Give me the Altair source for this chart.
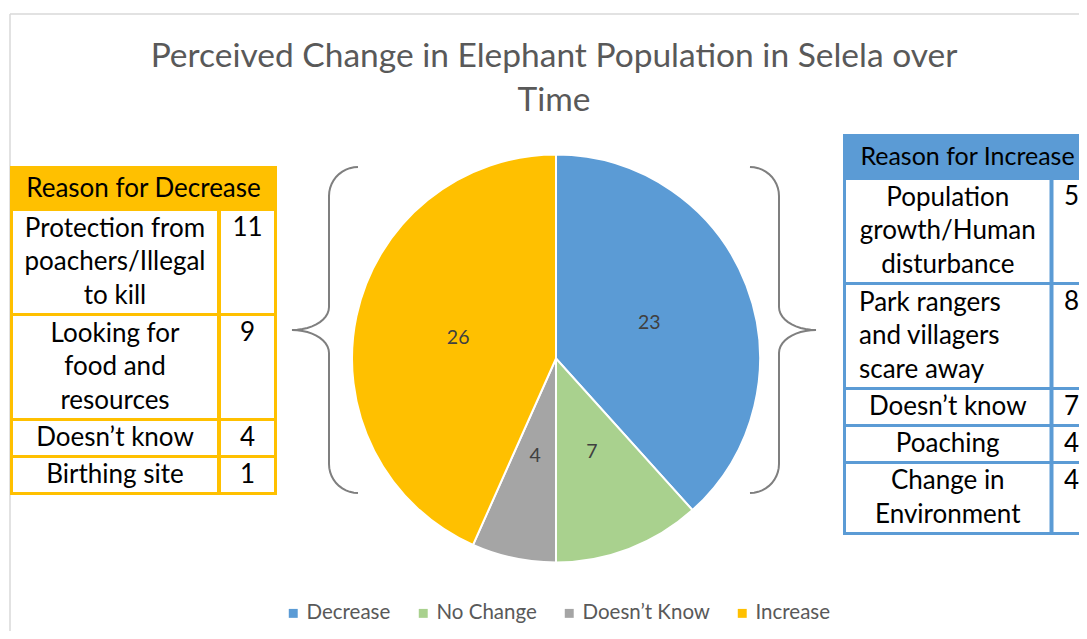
import altair as alt
import pandas as pd
import numpy as np

# ---------------- data ----------------
title_lines = ["Perceived Change in Elephant Population in Selela over", "Time"]

pie_categories = ["Decrease", "No Change", "Doesn\u2019t Know", "Increase"]
pie_values = [23, 7, 4, 26]
pie_colors = ["#5B9BD5", "#A9D18E", "#A5A5A5", "#FFC000"]

decrease_header = "Reason for Decrease"
decrease_reasons = ["Protection from\npoachers/Illegal\nto kill",
                    "Looking for\nfood and\nresources",
                    "Doesn\u2019t know",
                    "Birthing site"]
decrease_counts = [11, 9, 4, 1]
decrease_align = ["center", "center", "center", "center"]

increase_header = "Reason for Increase"
increase_reasons = ["Population\ngrowth/Human\ndisturbance",
                    "Park rangers\nand villagers\nscare away",
                    "Doesn\u2019t know",
                    "Poaching",
                    "Change in\nEnvironment"]
increase_counts = [5, 8, 7, 4, 4]
increase_align = ["center", "left", "center", "center", "center"]

# ---------------- layout / style ----------------
FONT = "Lato"
M = 8
W, H = 1071, 623
XS = alt.Scale(domain=[M, M + W], nice=False, zero=False)
YS = alt.Scale(domain=[M + H, M], nice=False, zero=False)
GOLD = "#FFC000"
BLUE = "#5B9BD5"
GREY_TXT = "#595959"
TABLE_FS = 26
LINE_H = 33.5
TITLE_FS = 33.5
TITLE_LH = 44


def X(f):
    return alt.X(f, type="quantitative", scale=XS, axis=None)


def Y(f):
    return alt.Y(f, type="quantitative", scale=YS, axis=None)


def table_frames(x0, x1, y0, head_h, split, reasons, counts, aligns,
                 num_dx=None, head_dx=0, line_h=34, gap=3, border=3):
    rows = []
    y = y0 + head_h
    for r, c, a in zip(reasons, counts, aligns):
        n = r.count("\n") + 1
        h = line_h * n
        rows.append(dict(reason=r, count=str(c), align=a, top=y, bot=y + h, n=n,
                         tx0=x0 + border, tx1=split - 2,
                         nx0=split + 2, nx1=x1 - border))
        y += h + gap
    bottom = y - gap + border
    rows = pd.DataFrame(rows)
    rows["ymid"] = (rows["top"] + rows["bot"]) / 2
    rows["yfirst"] = rows["ymid"] - (rows["n"] - 1) * LINE_H / 2
    rows["xc"] = (rows["tx0"] + rows["tx1"]) / 2
    rows["xl"] = rows["tx0"] + 13
    if num_dx is None:
        rows["nxc"] = (rows["nx0"] + rows["nx1"]) / 2
    else:
        rows["nxc"] = rows["nx0"] + num_dx
    rows["ny"] = rows["top"] + 17
    outer = pd.DataFrame([dict(x0=x0, x1=x1, y0=y0, y1=bottom,
                               hx=(x0 + x1) / 2 + head_dx, hy=y0 + head_h / 2)])
    return outer, rows


def table_layers(outer, rows, header, color, head_fs):
    clip = True
    lay = []
    lay.append(alt.Chart(outer).mark_rect(color=color, clip=clip).encode(
        x=X("x0"), x2="x1", y=Y("y0"), y2="y1"))
    lay.append(alt.Chart(rows).mark_rect(color="white", clip=clip).encode(
        x=X("tx0"), x2="tx1", y=Y("top"), y2="bot"))
    lay.append(alt.Chart(rows).mark_rect(color="white", clip=clip).encode(
        x=X("nx0"), x2="nx1", y=Y("top"), y2="bot"))
    lay.append(alt.Chart(outer.assign(t=header)).mark_text(
        font=FONT, fontSize=head_fs, color="black", align="center",
        baseline="middle").encode(x=X("hx"), y=Y("hy"), text="t:N"))
    for al, xf in (("center", "xc"), ("left", "xl")):
        sub = rows[rows["align"] == al]
        if len(sub):
            lay.append(alt.Chart(sub).mark_text(
                font=FONT, fontSize=TABLE_FS, color="black", align=al,
                baseline="middle", lineBreak="\n", lineHeight=LINE_H).encode(
                x=X(xf), y=Y("yfirst"), text="reason:N"))
    lay.append(alt.Chart(rows).mark_text(
        font=FONT, fontSize=TABLE_FS, color="black", align="center",
        baseline="middle").encode(
        x=X("nxc"), y=Y("ny"), text="count:N"))
    return lay


def brace(name, xe, xs, xt, yt, ym, yb, ry):
    t = np.linspace(0, np.pi / 2, 12)
    r = abs(xs - xe)
    pts = []
    pts += list(zip(xe + (xs - xe) * np.sin(t), yt + r - r * np.cos(t)))
    pts += list(zip(xt + (xs - xt) * np.cos(t), ym - ry + ry * np.sin(t)))
    pts += list(zip(xt + (xs - xt) * np.cos(t[::-1]), ym + ry - ry * np.sin(t[::-1])))
    pts += list(zip(xe + (xs - xe) * np.cos(t), yb - r + r * np.sin(t)))
    df = pd.DataFrame(pts, columns=["x", "y"])
    df["i"] = range(len(df))
    df["b"] = name
    return df


# ---------------- frame ----------------
frame = pd.DataFrame([dict(x=10, x2=M + W, y=14, y2=14),
                      dict(x=10, x2=10, y=14, y2=M + H)])
frame_layer = alt.Chart(frame).mark_rule(color="#D9D9D9", strokeWidth=1.5).encode(
    x=X("x"), x2="x2", y=Y("y"), y2="y2")

# ---------------- title ----------------
title_df = pd.DataFrame([dict(t="\n".join(title_lines), x=554, y=57)])
title_layer = alt.Chart(title_df).mark_text(
    font=FONT, fontSize=TITLE_FS, color=GREY_TXT, align="center", baseline="middle",
    lineBreak="\n", lineHeight=TITLE_LH).encode(x=X("x"), y=Y("y"), text="t:N")

# ---------------- pie ----------------
CX, CY, R = 556 - M, 358.5 - M, 204
pie_df = pd.DataFrame({"cat": pie_categories, "value": pie_values,
                       "idx": list(range(len(pie_values)))})
base = alt.Chart(pie_df).encode(
    theta=alt.Theta("value:Q", stack=True),
    order=alt.Order("idx:Q"),
)
pie = base.mark_arc(outerRadius=R, stroke="white", strokeWidth=2).encode(
    color=alt.Color("cat:N", scale=alt.Scale(domain=pie_categories, range=pie_colors),
                    legend=alt.Legend(orient="none", legendX=283 - M, legendY=603 - M,
                                      direction="horizontal", title=None,
                                      symbolType="square", symbolSize=80,
                                      symbolStrokeWidth=0, labelFont=FONT,
                                      labelFontSize=20.5, labelColor=GREY_TXT,
                                      columnPadding=22, labelOffset=3)),
    x=alt.value(CX), y=alt.value(CY))
pie_labels = base.mark_text(radius=100, font=FONT, fontSize=19.5, color="#404040").encode(
    text="value:Q", detail="cat:N", x=alt.value(CX), y=alt.value(CY))

# ---------------- braces ----------------
braces = pd.concat([
    brace("left", 358, 329, 292, 167, 330, 493, 23),
    brace("right", 750, 779, 816, 167, 330, 493, 23),
])
brace_layer = alt.Chart(braces).mark_line(color="#7F7F7F", strokeWidth=2).encode(
    x=X("x"), y=Y("y"), order="i:Q", detail="b:N")

# ---------------- tables ----------------
lo, lr = table_frames(10, 277, 166, 45, 219, decrease_reasons, decrease_counts, decrease_align)
ro, rr = table_frames(843, 1100, 134, 46, 1051.5, increase_reasons, increase_counts,
                      increase_align, num_dx=18, head_dx=-4)

layers = [frame_layer, title_layer, brace_layer, pie, pie_labels]
layers += table_layers(lo, lr, decrease_header, GOLD, 26)
layers += table_layers(ro, rr, increase_header, BLUE, 25)

chart = alt.layer(*layers).properties(
    width=W, height=H, padding=0,
    autosize=alt.AutoSizeParams(type="none"),
    background="white",
).configure_view(stroke=None)

chart.save("out.html", embed_options={"renderer": "svg", "actions": False})
